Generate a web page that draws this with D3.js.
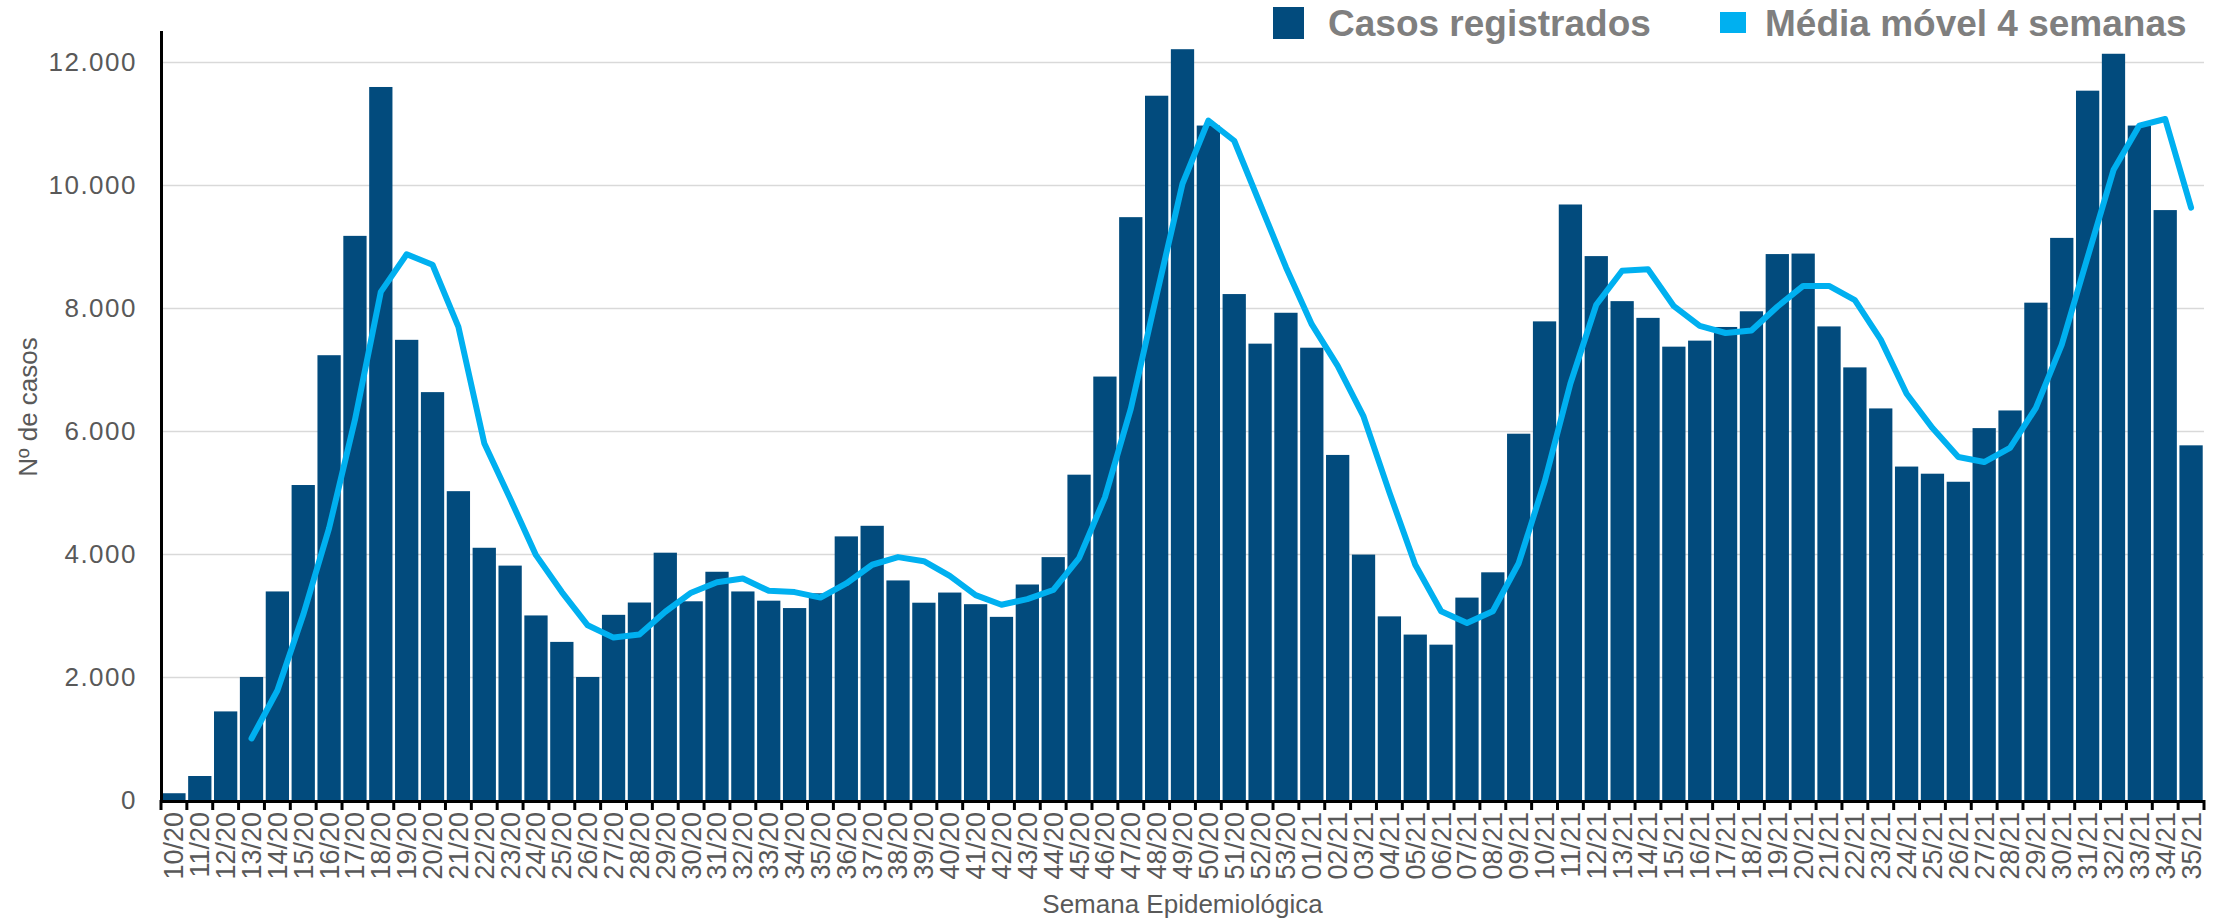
<!DOCTYPE html>
<html>
<head>
<meta charset="utf-8">
<script src="https://cdn.jsdelivr.net/npm/d3@7"></script>
<style>
  html, body { margin: 0; padding: 0; background: #ffffff; }
  svg { display: block; font-family: "Liberation Sans", Arial, Helvetica, sans-serif; }
</style>
</head>
<body>
<svg id="chart" width="2222" height="920"></svg>
<script>
// ---- Data ----
const weeks = [
  "10/20","11/20","12/20","13/20","14/20","15/20","16/20","17/20","18/20","19/20",
  "20/20","21/20","22/20","23/20","24/20","25/20","26/20","27/20","28/20","29/20",
  "30/20","31/20","32/20","33/20","34/20","35/20","36/20","37/20","38/20","39/20",
  "40/20","41/20","42/20","43/20","44/20","45/20","46/20","47/20","48/20","49/20",
  "50/20","51/20","52/20","53/20",
  "01/21","02/21","03/21","04/21","05/21","06/21","07/21","08/21","09/21","10/21",
  "11/21","12/21","13/21","14/21","15/21","16/21","17/21","18/21","19/21","20/21",
  "21/21","22/21","23/21","24/21","25/21","26/21","27/21","28/21","29/21","30/21",
  "31/21","32/21","33/21","34/21","35/21"
];

const cases = [
  110, 390, 1440, 2000, 3390, 5120, 7230, 9170, 11590, 7480,
  6630, 5020, 4100, 3810, 3000, 2570, 2000, 3010, 3210, 4020,
  3230, 3710, 3390, 3240, 3120, 3360, 4285, 4457, 3569, 3207,
  3372, 3183, 2977, 3503, 3948, 5288, 6883, 9474, 11448, 12204,
  10963, 8224, 7418, 7920,
  7352, 5609, 3989, 2985, 2689, 2525, 3290, 3701, 5954, 7780,
  9680, 8841, 8109, 7837, 7369, 7467, 7689, 7944, 8874, 8882,
  7698, 7032, 6365, 5420, 5304, 5173, 6045, 6332, 8084, 9137,
  11530, 12130, 10963, 9589, 5765
];

const movingAvg = [
  null, null, null, 1000, 1780, 3010, 4420, 6180, 8260, 8870,
  8700, 7690, 5800, 4900, 3980, 3380, 2840, 2640, 2690, 3060,
  3370, 3540, 3600, 3400, 3380, 3290, 3520, 3824, 3948, 3882,
  3643, 3331, 3174, 3265, 3413, 3931, 4918, 6357, 8208, 10017,
  11045, 10716, 9688, 8660,
  7731, 7056, 6234, 5000, 3824, 3068, 2878, 3068, 3849, 5170,
  6770, 8050, 8602, 8627, 8027, 7706, 7591, 7632, 8018, 8356,
  8356, 8125, 7484, 6604, 6045, 5576, 5494, 5724, 6374, 7402,
  8824, 10239, 10963, 11070, 9630
];

const yTicks = [0, 2000, 4000, 6000, 8000, 10000, 12000];

const seriesNames = ["Casos registrados", "Média móvel 4 semanas"];
const yTitle = "Nº de casos";
const xTitle = "Semana Epidemiológica";

// ---- Styles ----
const barColor = "#024b7d";
const lineColor = "#00b0f0";
const tickTextColor = "#595959";
const legendTextColor = "#7f7f7f";

// ---- Layout ----
const svg = d3.select("#chart");
const plotLeft = 161, plotRight = 2204, plotTop = 31, plotBottom = 800;

const x = d3.scaleBand().domain(weeks).range([plotLeft, plotRight]).paddingInner(0.1).paddingOuter(0.05);
const y = d3.scaleLinear().domain([0, 12500]).range([plotBottom, plotTop]);

const ptBR = d3.formatLocale({ decimal: ",", thousands: ".", grouping: [3], currency: ["R$", ""] });
const fmt = ptBR.format(",");

// Gridlines
svg.append("g")
  .selectAll("line")
  .data(yTicks.filter(d => d > 0))
  .join("line")
  .attr("x1", plotLeft + 2)
  .attr("x2", plotRight)
  .attr("y1", d => Math.round(y(d)) + 0.5)
  .attr("y2", d => Math.round(y(d)) + 0.5)
  .attr("stroke", "#d9d9d9")
  .attr("stroke-width", 1.5);

// Bars
svg.append("g")
  .selectAll("rect")
  .data(weeks)
  .join("rect")
  .attr("x", d => x(d))
  .attr("width", x.bandwidth())
  .attr("y", (d, i) => y(cases[i]))
  .attr("height", (d, i) => y(0) - y(cases[i]))
  .attr("fill", barColor);

// Moving average line
const lineGen = d3.line()
  .defined(d => d.v != null)
  .x(d => x(d.w) + x.bandwidth() / 2)
  .y(d => y(d.v));

svg.append("path")
  .datum(weeks.map((w, i) => ({ w, v: movingAvg[i] })))
  .attr("d", lineGen)
  .attr("fill", "none")
  .attr("stroke", lineColor)
  .attr("stroke-width", 6)
  .attr("stroke-linejoin", "round")
  .attr("stroke-linecap", "round");

// Y axis
const yAxis = d3.axisLeft(y).tickValues(yTicks).tickFormat(fmt).tickSize(0).tickPadding(24);
const gy = svg.append("g").attr("transform", `translate(${plotLeft},0)`).call(yAxis);
gy.select(".domain").remove();
gy.selectAll("text")
  .attr("fill", tickTextColor)
  .style("font-size", "26px")
  .style("letter-spacing", "1.5px");
svg.append("line")
  .attr("x1", plotLeft + 0.5).attr("x2", plotLeft + 0.5)
  .attr("y1", plotTop).attr("y2", plotBottom + 3)
  .attr("stroke", "#000").attr("stroke-width", 3);

// X axis
const xAxis = d3.axisBottom(x).tickSize(0).tickPadding(0);
const gx = svg.append("g").attr("transform", `translate(0,${plotBottom})`).call(xAxis);
gx.select(".domain").remove();
gx.selectAll("text")
  .attr("fill", tickTextColor)
  .style("font-size", "27px")
  .attr("text-anchor", "end")
  .attr("dy", "0.35em")
  .attr("transform", "translate(0,12) rotate(-90)")
  .attr("x", 0).attr("y", 0);

// X axis baseline + boundary ticks
const step = x.step();
const x0 = x(weeks[0]) - step * x.paddingInner() / 2;
const boundaries = d3.range(weeks.length + 1).map(i => x0 + i * step);
svg.append("line")
  .attr("x1", plotLeft).attr("x2", plotRight + 1)
  .attr("y1", plotBottom + 1.5).attr("y2", plotBottom + 1.5)
  .attr("stroke", "#000").attr("stroke-width", 3);
svg.append("g")
  .selectAll("line")
  .data(boundaries)
  .join("line")
  .attr("x1", d => d).attr("x2", d => d)
  .attr("y1", plotBottom).attr("y2", plotBottom + 10)
  .attr("stroke", "#000").attr("stroke-width", 3);

// Axis titles
svg.append("text")
  .attr("transform", `translate(28,407) rotate(-90)`)
  .attr("text-anchor", "middle")
  .attr("dy", "0.35em")
  .attr("fill", tickTextColor)
  .style("font-size", "26px")
  .text(yTitle);

svg.append("text")
  .attr("x", (plotLeft + plotRight) / 2)
  .attr("y", 913)
  .attr("text-anchor", "middle")
  .attr("fill", tickTextColor)
  .style("font-size", "26px")
  .text(xTitle);

// Legend
const legend = svg.append("g");
legend.append("rect").attr("x", 1273).attr("y", 7).attr("width", 31).attr("height", 32).attr("fill", barColor);
legend.append("text").attr("x", 1328).attr("y", 36)
  .attr("fill", legendTextColor).style("font-size", "37px").style("font-weight", "bold")
  .text(seriesNames[0]);
legend.append("rect").attr("x", 1720).attr("y", 12).attr("width", 26).attr("height", 21).attr("fill", lineColor);
legend.append("text").attr("x", 1765).attr("y", 36)
  .attr("fill", legendTextColor).style("font-size", "37px").style("font-weight", "bold")
  .text(seriesNames[1]);
</script>
</body>
</html>
